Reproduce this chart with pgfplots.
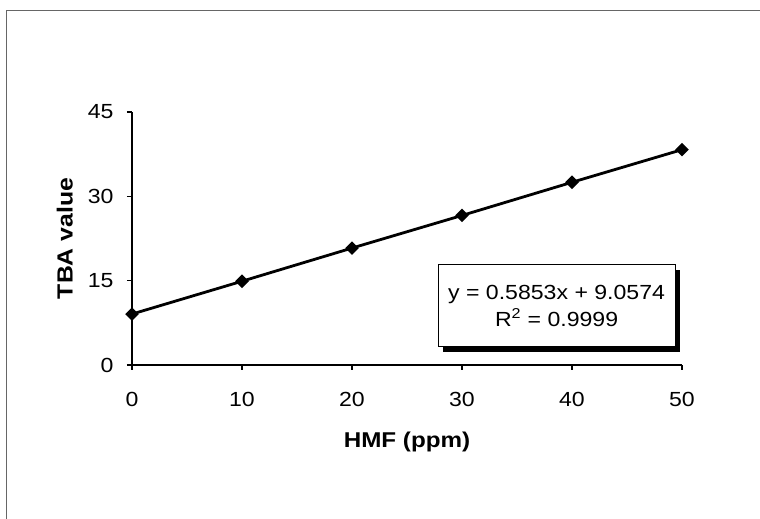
\documentclass[border=0pt]{standalone}
\usepackage{pgfplots}
\pgfplotsset{compat=1.18}
\usepackage{fontspec}
\setmainfont{Liberation Sans}[FakeStretch=1.13]
\usetikzlibrary{shadows}
\begin{document}
\begin{tikzpicture}
\useasboundingbox (0,0) rectangle (760bp,519bp);
\draw[line width=1.2bp, black!60] (6.5bp,-5bp) -- (6.5bp,508.5bp) -- (770bp,508.5bp);
\begin{axis}[
  at={(132bp,154bp)}, anchor=south west,
  scale only axis, width=550bp, height=253bp,
  xmin=0, xmax=50, ymin=0, ymax=45,
  axis lines*=left,
  axis line style={line width=1.8bp, black, -},
  xtick={0,10,...,50}, ytick={0,15,30,45},
  tick align=outside, major tick length=5bp,
  tick style={line width=1.4bp, black},
  font=\fontsize{20}{24}\selectfont,
  /pgf/number format/assume math mode=true,
  ticklabel style={font=\fontsize{20.5}{24}\selectfont},
  xticklabel style={yshift=-19bp},
  yticklabel style={xshift=-10bp},
  xlabel={\textbf{HMF (ppm)}},
  ylabel={\textbf{TBA value}},
  every axis x label/.style={at={(axis description cs:0.5,-0.304)}, anchor=center, font=\fontsize{21.5}{24}\selectfont},
  every axis y label/.style={at={(axis description cs:-0.122,0.5)}, rotate=90, anchor=center, font=\fontsize{22}{24}\selectfont},
  clip=false,
]
\addplot[black, line width=2.8bp, mark=square*, mark size=3.4bp, mark options={solid, fill=black, rotate=45}]
  coordinates {(0,9.06) (10,14.9) (20,20.8) (30,26.6) (40,32.5) (50,38.3)};
\node[draw=black, line width=1bp, fill=white, minimum width=237bp, minimum height=82bp, align=center,
      drop shadow={shadow xshift=5bp, shadow yshift=-5bp, fill=black, opacity=1},
      font=\fontsize{20.5}{27}\selectfont]
  at (axis cs:38.6,10.5) {y = 0.5853x + 9.0574\\R\textsuperscript{2} = 0.9999};
\end{axis}
\end{tikzpicture}
\end{document}
